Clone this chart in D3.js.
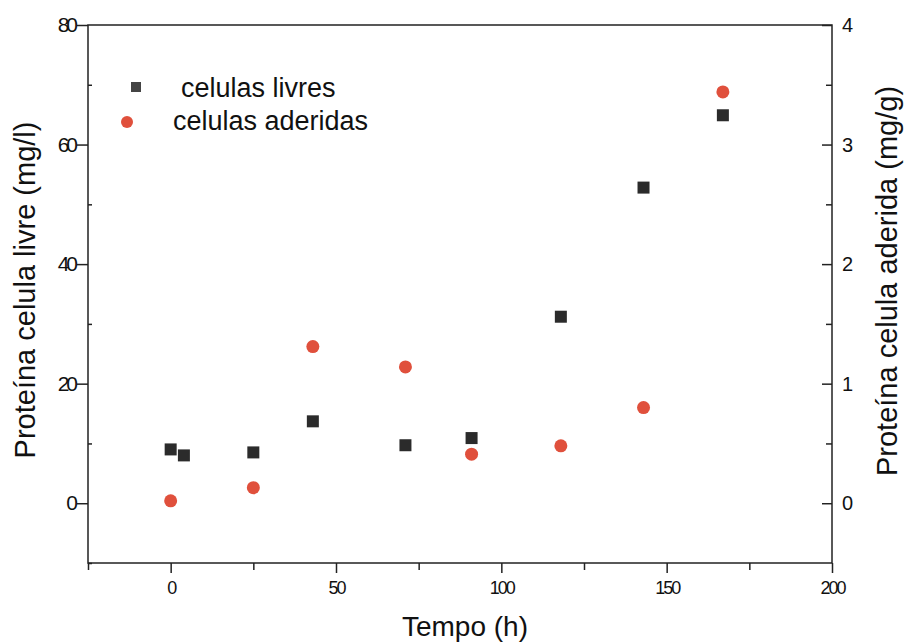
<!DOCTYPE html>
<html>
<head>
<meta charset="utf-8">
<script src="https://cdn.jsdelivr.net/npm/d3@7"></script>
<style>
  body { margin: 0; background: #fff; }
  svg text { font-family: "Liberation Sans", Arial, sans-serif; fill: #111; }
</style>
</head>
<body>
<svg id="chart" width="904" height="643"></svg>
<script>
// chart data
const livresTime = [0, 4, 25, 43, 71, 91, 118, 143, 167];
const livresProt = [9.0, 8.0, 8.5, 13.7, 9.7, 10.9, 31.2, 52.8, 64.9];
const aderidasTime = [0, 25, 43, 71, 91, 118, 143, 167];
const aderidasProt = [0.02, 0.13, 1.31, 1.14, 0.41, 0.48, 0.80, 3.44];

const xTicks = [0, 50, 100, 150, 200];
const yLeftTicks = [0, 20, 40, 60, 80];
const yRightTicks = [0, 1, 2, 3, 4];
const seriesNames = ["celulas livres", "celulas aderidas"];

// plot frame
const plotLeft = 88, plotRight = 832, plotTop = 25, plotBottom = 563;
const squareColor = "#2b2b2b";
const circleColor = "#e0503c";

const svg = d3.select("#chart");

const x = d3.scaleLinear().domain([-25, 200]).range([plotLeft, plotRight]);
const yL = d3.scaleLinear().domain([-10, 80]).range([plotBottom, plotTop]);
const yR = d3.scaleLinear().domain([-0.5, 4]).range([plotBottom, plotTop]);

// frame lines
svg.append("rect")
  .attr("x", plotLeft).attr("y", plotTop)
  .attr("width", plotRight - plotLeft).attr("height", plotBottom - plotTop)
  .attr("fill", "none").attr("stroke", "#222").attr("stroke-width", 1.5);

// x axis (major + minor ticks, outward)
const xAxis = svg.append("g").attr("class", "xaxis").attr("transform", `translate(0,${plotBottom})`)
  .call(d3.axisBottom(x).tickValues(xTicks).tickSize(10).tickPadding(8).tickFormat(d3.format("d")));
svg.append("g").attr("transform", `translate(0,${plotBottom})`)
  .call(d3.axisBottom(x).tickValues([-25, 25, 75, 125, 175]).tickSize(7).tickFormat(""));

// left axis
const yAxisL = svg.append("g").attr("class", "yaxisl").attr("transform", `translate(${plotLeft},0)`)
  .call(d3.axisLeft(yL).tickValues(yLeftTicks).tickSize(11).tickPadding(2).tickFormat(d3.format("d")));
svg.append("g").attr("transform", `translate(${plotLeft},0)`)
  .call(d3.axisRight(yL).tickValues([-10, 10, 30, 50, 70]).tickSize(4).tickFormat(""));

// right axis (ticks point into the plot)
svg.append("g").attr("transform", `translate(${plotRight},0)`)
  .call(d3.axisLeft(yR).tickValues(yRightTicks).tickSize(10).tickFormat(""));
svg.append("g").attr("transform", `translate(${plotRight},0)`)
  .call(d3.axisLeft(yR).tickValues([0.5, 1.5, 2.5, 3.5]).tickSize(6).tickFormat(""));
yRightTicks.forEach(t => {
  svg.append("text")
    .attr("x", plotRight + 10).attr("y", yR(t) + 7)
    .attr("font-size", 20)
    .text(t);
});

svg.selectAll(".domain").remove();
svg.selectAll(".tick line").attr("stroke", "#222").attr("stroke-width", 1.5);
xAxis.selectAll(".tick text").attr("font-size", 18).attr("letter-spacing", -2).attr("fill", "#111");
yAxisL.selectAll(".tick text").attr("font-size", 21).attr("letter-spacing", -3).attr("fill", "#111");

// axis titles
svg.append("text")
  .attr("x", 465).attr("y", 636)
  .attr("text-anchor", "middle").attr("font-size", 28)
  .text("Tempo (h)");

svg.append("text")
  .attr("transform", `translate(35,290) rotate(-90)`)
  .attr("text-anchor", "middle").attr("font-size", 29)
  .text("Proteína celula livre (mg/l)");

svg.append("text")
  .attr("transform", `translate(897,281) rotate(-90)`)
  .attr("text-anchor", "middle").attr("font-size", 29)
  .text("Proteína celula aderida (mg/g)");

// markers
const sq = 12;
svg.selectAll(".livre")
  .data(livresTime.map((t, i) => ({ t: t, v: livresProt[i] })))
  .enter().append("rect")
  .attr("class", "livre")
  .attr("x", d => x(d.t) - sq / 2)
  .attr("y", d => yL(d.v) - sq / 2)
  .attr("width", sq).attr("height", sq)
  .attr("fill", squareColor);

svg.selectAll(".aderida")
  .data(aderidasTime.map((t, i) => ({ t: t, v: aderidasProt[i] })))
  .enter().append("circle")
  .attr("class", "aderida")
  .attr("cx", d => x(d.t))
  .attr("cy", d => yR(d.v))
  .attr("r", 6.5)
  .attr("fill", circleColor);

// legend
const legend = svg.append("g");
legend.append("rect")
  .attr("x", 131).attr("y", 82).attr("width", 10).attr("height", 10)
  .attr("fill", "#444");
legend.append("text")
  .attr("x", 181).attr("y", 97).attr("font-size", 27)
  .text(seriesNames[0]);
legend.append("circle")
  .attr("cx", 127).attr("cy", 122).attr("r", 6)
  .attr("fill", circleColor);
legend.append("text")
  .attr("x", 173).attr("y", 130).attr("font-size", 27)
  .text(seriesNames[1]);
</script>
</body>
</html>
